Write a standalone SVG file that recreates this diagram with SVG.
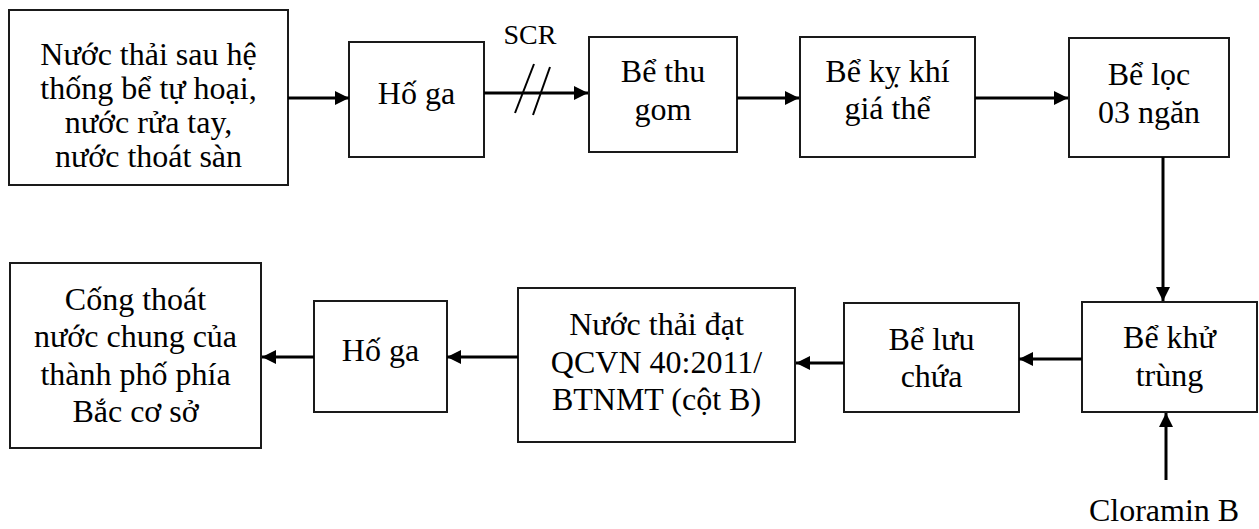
<svg xmlns="http://www.w3.org/2000/svg" width="1259" height="529" viewBox="0 0 1259 529">
<defs>
<marker id="ah" viewBox="0 0 14 14" refX="14" refY="7" markerWidth="14" markerHeight="14" markerUnits="userSpaceOnUse" orient="auto">
<path d="M0,0 L14,7 L0,14 z" fill="#000"/>
</marker>
<style>
.box{fill:#fff;stroke:#1a1a1a;stroke-width:2}
.t{font-family:"Liberation Serif","Times New Roman",serif;font-size:32px;fill:#000;text-anchor:middle}
.s{font-size:28px}
.c{stroke:#000;stroke-width:3;fill:none}
.c2{stroke:#000;stroke-width:2;fill:none}
</style>
</defs>
<rect width="1259" height="529" fill="#fff"/>
<g id="n1"><rect class="box" x="9" y="10" width="279" height="175"/>
<text class="t" x="148.5" y="65">Nước thải sau hệ</text>
<text class="t" x="148.5" y="99">thống bể tự hoại,</text>
<text class="t" x="148.5" y="133">nước rửa tay,</text>
<text class="t" x="148.5" y="167">nước thoát sàn</text></g>
<g id="n2"><rect class="box" x="349" y="42" width="135" height="115"/>
<text class="t" x="416.5" y="104">Hố ga</text></g>
<g id="n3"><rect class="box" x="589" y="37" width="148" height="115"/>
<text class="t" x="663" y="82">Bể thu</text>
<text class="t" x="663" y="120">gom</text></g>
<g id="n4"><rect class="box" x="800" y="37" width="175" height="120"/>
<text class="t" x="887.5" y="82">Bể kỵ khí</text>
<text class="t" x="887.5" y="119">giá thể</text></g>
<g id="n5"><rect class="box" x="1069" y="38" width="160" height="119"/>
<text class="t" x="1149" y="85">Bể lọc</text>
<text class="t" x="1149" y="123">03 ngăn</text></g>
<g id="n6"><rect class="box" x="1082" y="302" width="175" height="110"/>
<text class="t" x="1169.5" y="348">Bể khử</text>
<text class="t" x="1169.5" y="386">trùng</text></g>
<g id="n7"><rect class="box" x="844" y="303" width="175" height="109"/>
<text class="t" x="931.5" y="350">Bể lưu</text>
<text class="t" x="931.5" y="387">chứa</text></g>
<g id="n8"><rect class="box" x="518" y="288" width="277" height="154"/>
<text class="t" x="656.5" y="335">Nước thải đạt</text>
<text class="t" x="656.5" y="373">QCVN 40:2011/</text>
<text class="t" x="656.5" y="410">BTNMT (cột B)</text></g>
<g id="n9"><rect class="box" x="314" y="301" width="133" height="111"/>
<text class="t" x="380.5" y="361">Hố ga</text></g>
<g id="n10"><rect class="box" x="10" y="263" width="251" height="185"/>
<text class="t" x="135.5" y="310">Cống thoát</text>
<text class="t" x="135.5" y="347">nước chung của</text>
<text class="t" x="135.5" y="385">thành phố phía</text>
<text class="t" x="135.5" y="422">Bắc cơ sở</text></g>
<g id="n11"><text class="t" x="1164" y="521">Cloramin B</text></g>
<g id="connectors">
<line class="c" x1="288" y1="98" x2="349" y2="98" marker-end="url(#ah)"/>
<line class="c" x1="484" y1="93" x2="588" y2="93" marker-end="url(#ah)"/>
<text class="t s" x="530" y="44">SCR</text>
<line class="c2" x1="515" y1="113" x2="534" y2="64"/>
<line class="c2" x1="533" y1="115" x2="550" y2="67"/>
<line class="c" x1="737" y1="98" x2="799" y2="98" marker-end="url(#ah)"/>
<line class="c" x1="975" y1="98" x2="1068" y2="98" marker-end="url(#ah)"/>
<line class="c" x1="1163" y1="157" x2="1163" y2="301" marker-end="url(#ah)"/>
<line class="c" x1="1166" y1="480" x2="1166" y2="413" marker-end="url(#ah)"/>
<line class="c" x1="1082" y1="359" x2="1019" y2="359" marker-end="url(#ah)"/>
<line class="c" x1="844" y1="363" x2="796" y2="363" marker-end="url(#ah)"/>
<line class="c" x1="518" y1="357" x2="447" y2="357" marker-end="url(#ah)"/>
<line class="c" x1="314" y1="357" x2="262" y2="357" marker-end="url(#ah)"/>
</g>
</svg>
